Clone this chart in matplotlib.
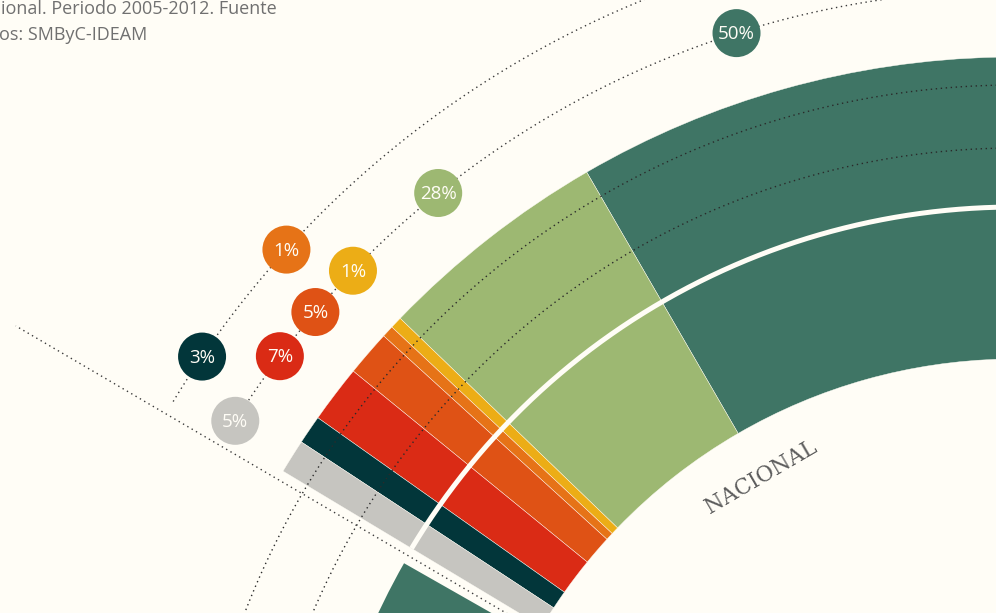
import numpy as np
import matplotlib.pyplot as plt
from matplotlib.patches import Wedge, Circle

# slices of the NACIONAL ring, from the clockwise end to the start
labels = ["50%", "28%", "1%", "1%", "5%", "7%", "3%", "5%"]
shares = [50.0, 27.6, 1.4, 1.4, 5.4, 6.8, 3.4, 4.0]
colors = ["#3f7565", "#9db872", "#ecad16", "#e67317",
          "#df5215", "#da2b15", "#02363a", "#c6c5c0"]
bubble_ring = [0, 0, 0, 1, 0, 0, 1, 0]   # which dotted ring each label sits on

region_name = "NACIONAL"
next_region_extent = 0.5     # bar length of the neighbouring region (first slice only visible)
next_region_color = "#3f7565"

title_lines = ["ional. Periodo 2005-2012. Fuente", "os: SMByC-IDEAM"]

bg = "#fffdf6"
W, H = 996, 613

fig = plt.figure(figsize=(W / 100, H / 100), dpi=100, facecolor=bg)
ax = fig.add_axes([0, 0, 1, 1])
ax.set_xlim(0, W)
ax.set_ylim(0, H)
ax.set_aspect("equal")
ax.axis("off")
ax.set_facecolor(bg)

# polar layout in pixel units (y up)
cx, cy = 1015, H - 911
r_in, r_out = 552, 854
start = 149.0
deg_per = 0.578
ring_r = [921, 984]

def polar(r, a):
    t = np.radians(a)
    return cx + r * np.cos(t), cy + r * np.sin(t)

def dotted_arc(r, a0, a1, color="#2a2a2a", z=3):
    a = np.linspace(a0, a1, 600)
    x, y = polar(r, a)
    ax.plot(x, y, color=color, lw=1.0, ls=(0, (1, 2.6)), zorder=z)

total = sum(shares)
end = start - total * deg_per
edges = end + np.concatenate([[0], np.cumsum(shares)]) * deg_per

for i, (s, c) in enumerate(zip(shares, colors)):
    ax.add_patch(Wedge((cx, cy), r_out, edges[i], edges[i + 1], width=r_out - r_in,
                       facecolor=c, edgecolor=bg, lw=0.3, zorder=1))

# neighbouring region below the gap
r_next = r_in + next_region_extent * (r_out - r_in)
ax.add_patch(Wedge((cx, cy), r_next, start + 1.35, start + 30, width=r_next - r_in,
                   facecolor=next_region_color, lw=0, zorder=1))

# white half-way arc across the ring
a = np.linspace(end - 5, start, 600)
x, y = polar(r_in + 0.5 * (r_out - r_in) + 1, a)
ax.plot(x, y, color=bg, lw=3.6, zorder=2, solid_capstyle="butt")

# dotted guide arcs
for r in [763, 826]:
    dotted_arc(r, 80, 170)
dotted_arc(ring_r[0], 80, start, color="#3a3a3a")
dotted_arc(ring_r[1], 80, start, color="#3a3a3a")

# radial separator
rr = np.linspace(r_in, 1158, 200)
x, y = polar(rr, start + 0.65)
ax.plot(x, y, color="#3a3a3a", lw=1.0, ls=(0, (1, 2.6)), zorder=3)

# bubbles, centred on their slice with small nudges where labels crowd
mids = (edges[:-1] + edges[1:]) / 2
nudge = [1.95, 0.7, -0.5, 0.5, 0.2, 0.2, 0.0, 0.0]
for lab, c, m, ring, dn in zip(labels, colors, mids, bubble_ring, nudge):
    bx, by = polar(ring_r[ring], m + dn)
    ax.add_patch(Circle((bx, by), 24, facecolor=c, edgecolor="none", zorder=5))
    ax.text(bx, by - 1, lab, color=bg, fontsize=13.5, family="Open Sans",
            ha="center", va="center", zorder=6)

# region label
tx, ty = polar(503, 120.3)
ax.text(tx, ty, region_name, rotation=30.3, rotation_mode="anchor",
        ha="center", va="center", fontsize=15.5, family="DejaVu Serif",
        color="#5c5c5c", zorder=4)

# cropped caption
ax.text(277, H - 14, title_lines[0], ha="right", va="baseline", fontsize=13,
        family="Open Sans", color="#707070")
ax.text(147, H - 40, title_lines[1], ha="right", va="baseline", fontsize=13,
        family="Open Sans", color="#707070")

fig.savefig("out.png", dpi=100, facecolor=bg)
